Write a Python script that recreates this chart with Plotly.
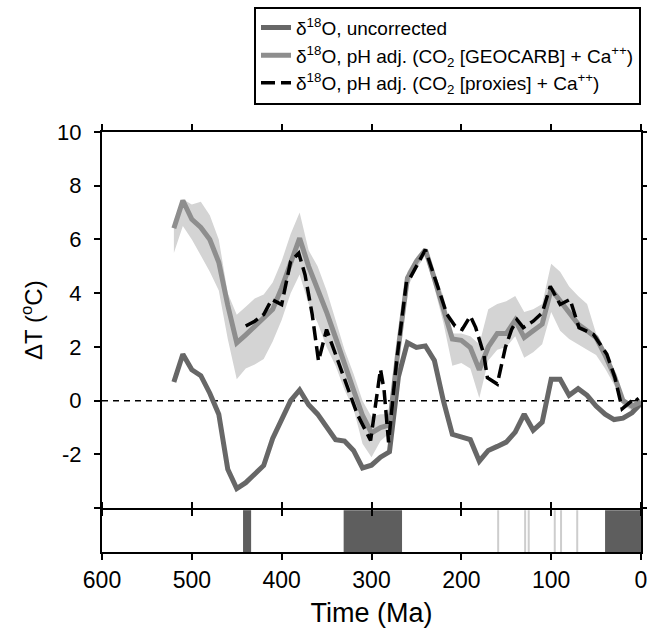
import plotly.graph_objects as go

# ---------------- data ----------------
time_grid = [520, 510, 500, 490, 480, 470, 460, 450, 440, 430, 420, 410, 400, 390, 380,
             370, 360, 350, 340, 330, 320, 310, 300, 290, 280, 270, 260, 250, 240, 230,
             220, 210, 200, 190, 180, 170, 160, 150, 140, 130, 120, 110, 100, 90, 80,
             70, 60, 50, 40, 30, 20, 10, 0]

uncorrected = [0.70, 1.73, 1.15, 0.93, 0.28, -0.50, -2.55, -3.27, -3.05, -2.75, -2.41, -1.40,
               -0.70, 0.00, 0.40, -0.15, -0.50, -0.95, -1.45, -1.50, -1.85, -2.50, -2.40,
               -2.10, -1.90, 0.90, 2.16, 1.98, 2.04, 1.50, 0.00, -1.25, -1.33, -1.45, -2.25,
               -1.85, -1.70, -1.54, -1.17, -0.50, -1.10, -0.80, 0.80, 0.80, 0.20, 0.45,
               0.20, -0.20, -0.50, -0.70, -0.65, -0.45, -0.10]

geocarb = [6.42, 7.45, 6.75, 6.45, 6.00, 5.15, 3.55, 2.15, 2.45, 2.75, 3.05, 3.40, 4.20,
           5.10, 6.05, 5.00, 4.20, 3.30, 2.35, 1.30, 0.40, -0.55, -1.20, -1.00, -0.90,
           2.00, 4.57, 5.19, 5.62, 4.55, 3.50, 2.30, 2.25, 1.98, 1.15, 2.00, 2.50, 2.50,
           3.00, 2.35, 2.60, 2.85, 4.15, 3.70, 3.30, 2.85, 2.60, 2.35, 1.70, 0.95, 0.00,
           -0.20, -0.05]

geocarb_upper = [6.70, 7.50, 7.30, 7.40, 6.90, 6.00, 4.00, 3.20, 3.50, 3.80, 3.95, 4.40,
                 5.20, 6.20, 7.00, 5.60, 5.00, 4.10, 3.00, 1.90, 1.00, 0.00, -0.60, -0.50,
                 -0.50, 2.30, 4.80, 5.35, 5.70, 4.80, 3.90, 2.50, 2.50, 2.40, 2.10, 3.40,
                 3.60, 3.70, 3.90, 3.30, 3.40, 3.60, 5.10, 4.80, 4.25, 3.90, 3.60, 2.50,
                 1.90, 1.10, 0.10, -0.10, 0.00]

geocarb_lower = [5.50, 6.50, 6.00, 5.40, 4.80, 4.10, 2.30, 0.80, 1.20, 1.35, 1.55, 2.20,
                 3.00, 4.00, 4.70, 3.60, 2.90, 2.00, 1.30, 0.40, -0.30, -1.60, -2.10, -1.50,
                 -1.20, 1.50, 4.20, 4.90, 5.40, 4.20, 2.90, 1.30, 1.40, 1.20, 0.10, 1.50,
                 1.90, 2.00, 2.40, 1.60, 1.80, 2.10, 3.30, 2.60, 2.30, 2.10, 1.90, 1.70,
                 1.20, 0.60, -0.20, -0.35, -0.10]

proxy_time = [440, 430, 420, 411, 400, 390, 381, 374, 366, 359, 350, 335, 316, 301, 297,
              290, 286, 281, 272, 261, 257, 249, 240, 227, 216, 207, 199, 190, 184, 175,
              171, 160, 157, 151, 144, 138, 131, 120, 110, 101, 90, 79, 69, 53, 38, 29,
              21, 6, 3]
proxy_values = [2.78, 2.96, 3.21, 3.77, 3.58, 5.19, 5.49, 4.69, 3.21, 1.48, 2.65, 1.23,
                -0.49, -1.48, -0.50, 1.17, 0.40, -1.55, 1.48, 4.44, 4.57, 5.06, 5.62, 4.32,
                3.21, 2.78, 2.65, 3.15, 2.72, 1.73, 0.86, 0.62, 1.11, 1.98, 2.65, 3.02,
                2.72, 2.96, 3.27, 4.26, 3.58, 3.77, 2.72, 2.47, 1.73, 0.86, -0.30, 0.12,
                0.00]

# glacial intervals (Ma): major (dark) and minor (light) ice events
glacial_start = [443, 331, 40]
glacial_end = [434, 266, 0]
ice_events = [159, 129, 125, 96, 89, 71]

y_tick_vals = [-4, -2, 0, 2, 4, 6, 8, 10]
y_tick_text = ["", "-2", "0", "2", "4", "6", "8", "10"]
x_tick_vals = [600, 500, 400, 300, 200, 100, 0]
x_tick_text = ["600", "500", "400", "300", "200", "100", "0"]

legend_names = ["δ<sup>18</sup>O, uncorrected",
                "δ<sup>18</sup>O, pH adj. (CO<sub>2</sub> [GEOCARB] + Ca<sup>++</sup>)",
                "δ<sup>18</sup>O, pH adj. (CO<sub>2</sub> [proxies] + Ca<sup>++</sup>)"]

# ---------------- figure ----------------
FONT = "Liberation Sans, Arial, Helvetica, sans-serif"
C_UNC = "#676767"
C_GEO = "#8e8e8e"
C_BAND = "#d4d4d4"
C_ICE = "#5e5e5e"
C_ICE_LIGHT = "#cdcdcd"

fig = go.Figure()

# uncertainty band
fig.add_trace(go.Scatter(x=time_grid + time_grid[::-1],
                         y=geocarb_upper + geocarb_lower[::-1],
                         fill="toself", fillcolor=C_BAND, line=dict(width=0),
                         mode="lines", showlegend=False, hoverinfo="skip",
                         xaxis="x", yaxis="y"))

fig.add_trace(go.Scatter(x=time_grid, y=uncorrected, mode="lines", name=legend_names[0],
                         line=dict(color=C_UNC, width=5), xaxis="x", yaxis="y"))
fig.add_trace(go.Scatter(x=time_grid, y=geocarb, mode="lines", name=legend_names[1],
                         line=dict(color=C_GEO, width=5), xaxis="x", yaxis="y"))
fig.add_trace(go.Scatter(x=proxy_time, y=proxy_values, mode="lines", name=legend_names[2],
                         line=dict(color="black", width=3.5, dash="14px,6px"),
                         xaxis="x", yaxis="y"))

shapes = []
# zero line
shapes.append(dict(type="line", xref="x domain", yref="y", x0=0, x1=1, y0=0, y1=0,
                   line=dict(color="black", width=1.5, dash="6px,5px"), layer="below"))
# glacial bars
for s, e in zip(glacial_start, glacial_end):
    shapes.append(dict(type="rect", xref="x2", yref="y2 domain", x0=s, x1=e, y0=0, y1=1,
                       fillcolor=C_ICE, line=dict(width=0), layer="below"))
for t in ice_events:
    shapes.append(dict(type="line", xref="x2", yref="y2 domain", x0=t, x1=t, y0=0, y1=1,
                       line=dict(color=C_ICE_LIGHT, width=2), layer="below"))

axis_common = dict(showline=True, linecolor="black", linewidth=2, mirror="ticks",
                   ticks="outside", ticklen=6, tickwidth=2, tickcolor="black",
                   showgrid=False, zeroline=False, automargin=False)

main_bottom = (552 - 508) / 422
strip_top = (552 - 510) / 422

fig.update_layout(
    width=647, height=638,
    margin=dict(l=102, r=6, t=130, b=86),
    paper_bgcolor="white", plot_bgcolor="white",
    font=dict(family=FONT, color="black", size=22),
    showlegend=True,
    legend=dict(x=1.0, xanchor="right", y=1 + (130 - 4) / 422, yanchor="top",
                bgcolor="white", bordercolor="black", borderwidth=2,
                font=dict(size=19, family=FONT), tracegroupgap=0,
                itemwidth=30),
    xaxis=dict(domain=[0, 1], anchor="y", range=[600, 0], tickvals=x_tick_vals,
               showticklabels=False, **axis_common),
    yaxis=dict(domain=[main_bottom, 1], anchor="x", range=[-4, 10],
               tickvals=y_tick_vals, ticktext=y_tick_text,
               tickfont=dict(size=22), ticklabelstandoff=8,
               title=dict(text="ΔT (<sup>o</sup>C)", font=dict(size=24), standoff=8),
               **axis_common),
    xaxis2=dict(domain=[0, 1], anchor="y2", range=[600, 0], matches="x",
                tickvals=x_tick_vals, ticktext=x_tick_text, tickfont=dict(size=23),
                ticklabeloverflow="allow",
                title=dict(text="Time (Ma)", font=dict(size=27), standoff=12),
                **axis_common),
    yaxis2=dict(domain=[0, strip_top], anchor="x2", range=[0, 1], showticklabels=False,
                showline=True, linecolor="black", linewidth=2, mirror=True, ticks="",
                showgrid=False, zeroline=False, automargin=False),
    shapes=shapes,
)

fig.write_html("out.html", config={"displayModeBar": False},
               post_script="document.body.style.margin='0px';")
